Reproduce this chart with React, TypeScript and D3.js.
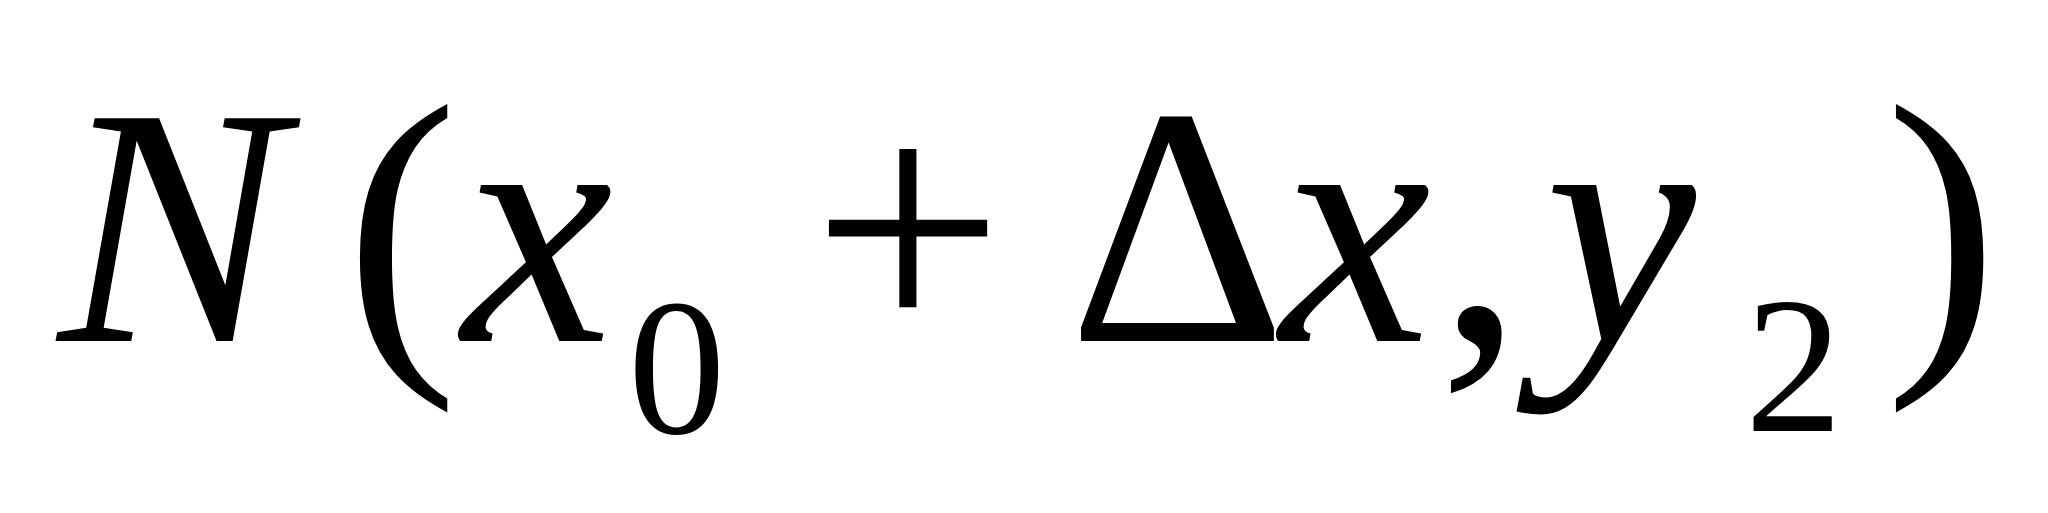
import * as d3 from "d3";

// glyphs of the formula: text, left x, baseline y, size, italic
const glyphs = ["N", "(", "x", "0", "+", "Δ", "x", ",", "y", "2", ")"];
const lefts = [58, 345, 462, 628, 812, 1068, 1280, 1438, 1545, 1745, 1885];
const baselines = [341, 340, 341, 433, 341, 341, 341, 341, 341, 431, 340];
const sizes = [340, 340, 340, 195, 340, 340, 340, 340, 340, 195, 340];
const italics = [true, false, true, false, false, false, true, false, true, false, false];

export default function App() {
  const W = 2048;
  const H = 513;
  const x = d3.scaleLinear().domain([0, W]).range([0, W]);
  return (
    <svg width={W} height={H} style={{ position: "absolute", left: 0, top: 0, background: "#fff" }}>
      <rect width={W} height={H} fill="#fff" />
      {glyphs.map((g, i) => (
        <text
          key={i}
          x={x(lefts[i])}
          y={baselines[i]}
          style={{
            fontFamily: "'Liberation Serif', 'Times New Roman', Times, serif",
            fontSize: sizes[i],
            fontStyle: italics[i] ? "italic" : "normal",
          }}
          fill="#000"
        >
          {g}
        </text>
      ))}
    </svg>
  );
}
